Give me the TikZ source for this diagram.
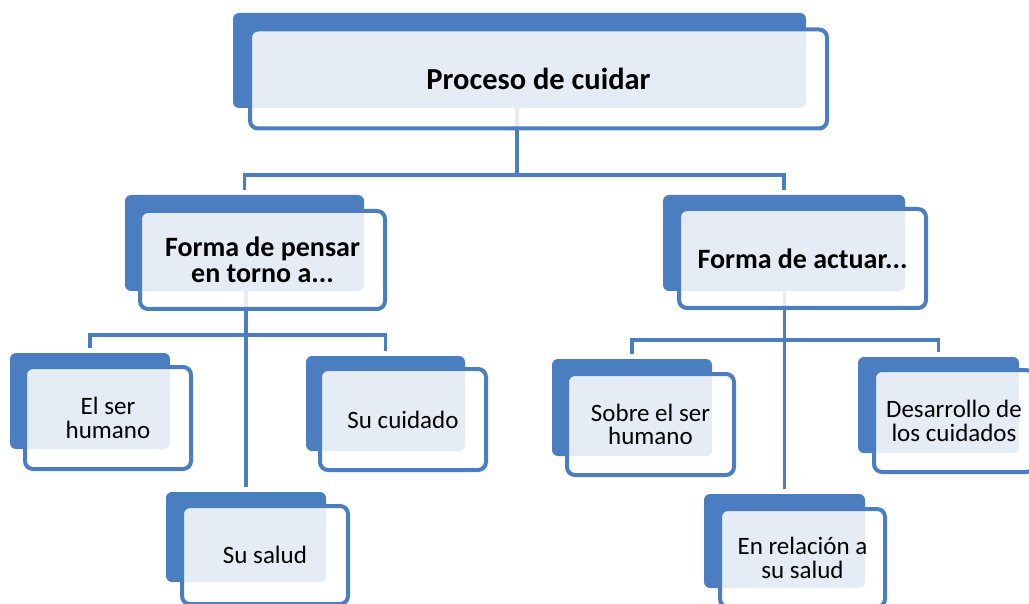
\documentclass[tikz,border=0pt]{standalone}
\usepackage{fontspec}
\setmainfont{Carlito}
\definecolor{cblue}{RGB}{74,126,193}
\pgfdeclarelayer{background}
\pgfsetlayers{background,main}
\tikzset{
  backbox/.style={fill=cblue, draw=none, rounded corners=6pt, inner sep=0pt, anchor=center},
  frontbox/.style={draw=cblue, line width=4pt, fill=white, fill opacity=0.86, text opacity=1,
    rounded corners=8pt, inner sep=0pt, anchor=center, align=center, text=black},
  toptext/.style={font=\fontsize{30.5}{34}\selectfont\bfseries},
  midtext/.style={font=\fontsize{28}{26}\selectfont\bfseries},
  lowtext/.style={font=\fontsize{25}{23.5}\selectfont},
  conn/.style={draw=cblue, line width=3.8pt},
  tochild/.style={conn, shorten >=5pt}
}
\begin{document}
\begin{tikzpicture}[x=1pt, y=-1pt]
\useasboundingbox (0,0) rectangle (1029,604);
\clip (0,0) rectangle (1029,604);
% back boxes
\node[backbox, minimum width=573pt, minimum height=95pt] (topb) at (519.5,60.5) {};
\node[backbox, minimum width=239pt, minimum height=96pt] (pensb) at (244.5,243) {};
\node[backbox, minimum width=242pt, minimum height=96pt] (actb) at (784,243) {};
\node[backbox, minimum width=160pt, minimum height=96pt] (serb) at (90,401) {};
\node[backbox, minimum width=159pt, minimum height=95pt] (cuib) at (385.5,403.5) {};
\node[backbox, minimum width=160pt, minimum height=90pt] (salb) at (246,537) {};
\node[backbox, minimum width=160pt, minimum height=97pt] (sobb) at (632,407.5) {};
\node[backbox, minimum width=161pt, minimum height=96pt] (desb) at (938.5,405) {};
\node[backbox, minimum width=161pt, minimum height=94pt] (relb) at (784.5,541) {};
% connectors
\coordinate (j0) at (517,175);
\coordinate (j1) at (246,335);
\coordinate (j2) at (784.5,340);
\begin{pgfonlayer}{background}
\draw[conn] (topb.center -| j0) -- (j0);
\draw[tochild] (j0) -| (pensb.north);
\draw[tochild] (j0) -| (actb.north);
\draw[tochild] (pensb.center -| salb.north) -- (salb.north);
\draw[tochild] (j1) -| (serb.north);
\draw[tochild] (j1) -| (cuib.north);
\draw[tochild] (actb.center -| relb.north) -- (relb.north);
\draw[tochild] (j2) -| (sobb.north);
\draw[tochild] (j2) -| (desb.north);
\end{pgfonlayer}
% front boxes
\node[frontbox, toptext, minimum width=577pt, minimum height=99pt] (topf) at (538.5,79) {Proceso de cuidar};
\node[frontbox, midtext, minimum width=245pt, minimum height=98pt] (pensf) at (262.5,260) {Forma de pensar\\en torno a...};
\node[frontbox, midtext, minimum width=247pt, minimum height=99pt] (actf) at (802.5,258.5) {Forma de actuar...};
\node[frontbox, lowtext, minimum width=166pt, minimum height=102pt] (serf) at (108,418) {El ser\\humano};
\node[frontbox, lowtext, minimum width=166pt, minimum height=101pt] (cuif) at (403,419.5) {Su cuidado};
\node[frontbox, lowtext, minimum width=166pt, minimum height=98pt] (salf) at (265,555) {Su salud};
\node[frontbox, lowtext, minimum width=167pt, minimum height=101pt] (sobf) at (650.5,424.5) {Sobre el ser\\humano};
\node[frontbox, lowtext, minimum width=160pt, minimum height=102pt] (desf) at (954,421) {Desarrollo de\\los cuidados};
\node[frontbox, lowtext, minimum width=165pt, minimum height=98pt] (relf) at (802.5,558) {En relación a\\su salud};
\end{tikzpicture}
\end{document}
